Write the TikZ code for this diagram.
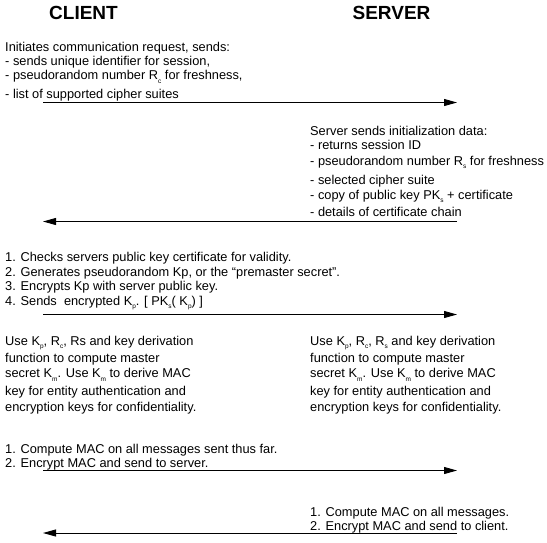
\documentclass[tikz,border=0pt]{standalone}
\usepackage{fontspec}
\setmainfont{Liberation Sans}
\usetikzlibrary{arrows.meta}
\newcommand{\sbs}[1]{\raisebox{-3.5pt}{\fontsize{6.5}{7}\selectfont #1}}
\begin{document}
\begin{tikzpicture}[x=1pt,y=-1pt,
  txt/.style={anchor=base west, inner sep=0pt, font=\fontsize{12.8}{14}\selectfont},
  head/.style={anchor=center, inner sep=0pt, font=\fontsize{19}{21}\selectfont\bfseries},
  msg/.style={-{Triangle[length=13pt,width=7pt]}, line width=0.9pt}]
\useasboundingbox (0,0) rectangle (547,542);
\fill[white] (0,0) rectangle (547,542);
\node[head] (client) at (83.5,13) {CLIENT};
\node[head] (server) at (391.5,13) {SERVER};
% block 1
\node[txt] (a1) at (5,51.5) {Initiates communication request, sends:};
\node[txt] (a2) at (5,65.5) {- sends unique identifier for session,};
\node[txt] (a3) at (5,79.5) {- pseudorandom number R\sbs{c} for freshness,};
\node[txt] (a4) at (5,98.5) {- list of supported cipher suites};
\coordinate (c1) at (43,102.5); \coordinate (s1) at (457,102.5);
\draw[msg] (c1) -- (s1);
% block 2
\node[txt] (b1) at (310,135) {Server sends initialization data:};
\node[txt] (b2) at (310,149) {- returns session ID};
\node[txt] (b3) at (310,165) {- pseudorandom number R\sbs{s} for freshness};
\node[txt] (b4) at (310,184) {- selected cipher suite};
\node[txt] (b5) at (310,199) {- copy of public key PK\sbs{s} + certificate};
\node[txt] (b6) at (310,216) {- details of certificate chain};
\coordinate (c2) at (43,221.5); \coordinate (s2) at (457,221.5);
\draw[msg] (s2) -- (c2);
% block 3
\node[txt] (d1) at (5,261) {1. Checks servers public key certificate for validity.};
\node[txt] (d2) at (5,276) {2. Generates pseudorandom Kp, or the “premaster secret”.};
\node[txt] (d3) at (5,290) {3. Encrypts Kp with server public key.};
\node[txt] (d4) at (5,305) {4. Sends\ \ encrypted K\sbs{p}. [ PK\sbs{s}( K\sbs{p}) ]};
\coordinate (c3) at (43,314.5); \coordinate (s3) at (457,314.5);
\draw[msg] (c3) -- (s3);
% block 4 client
\node[txt] (e1) at (5,345) {Use K\sbs{p}, R\sbs{c}, Rs and key derivation};
\node[txt] (e2) at (5,362) {function to compute master};
\node[txt] (e3) at (5,377.5) {secret K\sbs{m}. Use K\sbs{m} to derive MAC};
\node[txt] (e4) at (5,395.5) {key for entity authentication and};
\node[txt] (e5) at (5,411) {encryption keys for confidentiality.};
% block 4 server
\node[txt] (f1) at (310,345) {Use K\sbs{p}, R\sbs{c}, R\sbs{s} and key derivation};
\node[txt] (f2) at (310,362) {function to compute master};
\node[txt] (f3) at (310,377.5) {secret K\sbs{m}. Use K\sbs{m} to derive MAC};
\node[txt] (f4) at (310,395.5) {key for entity authentication and};
\node[txt] (f5) at (310,411) {encryption keys for confidentiality.};
% block 5
\node[txt] (g1) at (5,453) {1. Compute MAC on all messages sent thus far.};
\node[txt] (g2) at (5,467) {2. Encrypt MAC and send to server.};
\coordinate (c4) at (43,470.5); \coordinate (s4) at (457,470.5);
\draw[msg] (c4) -- (s4);
% block 6
\node[txt] (h1) at (310,516) {1. Compute MAC on all messages.};
\node[txt] (h2) at (310,530) {2. Encrypt MAC and send to client.};
\coordinate (c5) at (43,533); \coordinate (s5) at (457,533);
\draw[msg] (s5) -- (c5);
\end{tikzpicture}
\end{document}
